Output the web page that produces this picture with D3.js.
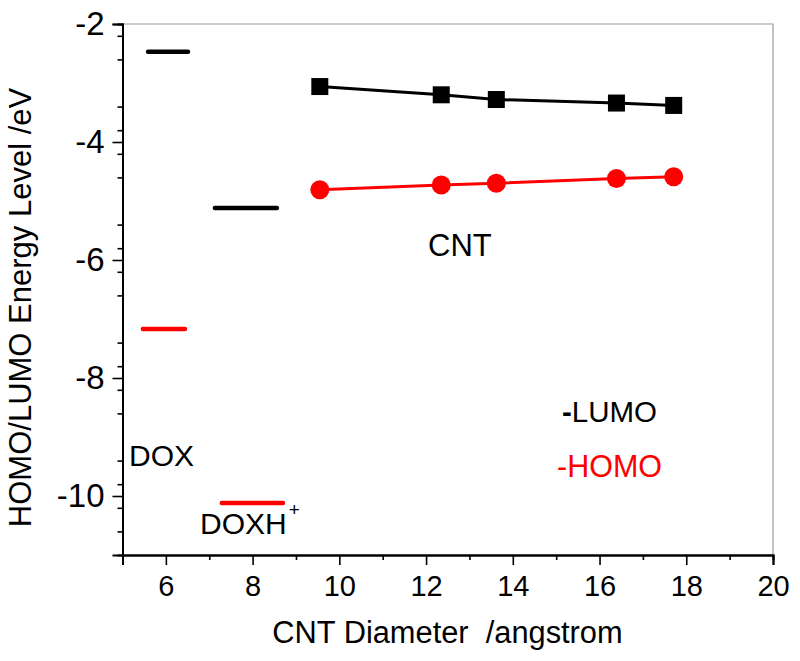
<!DOCTYPE html>
<html>
<head>
<meta charset="utf-8">
<script src="https://cdn.jsdelivr.net/npm/d3@7"></script>
<style>
  html, body { margin: 0; padding: 0; background: #fff; }
  svg { display: block; font-family: "Liberation Sans", Arial, sans-serif; }
</style>
</head>
<body>
<svg id="chart" width="800" height="661"></svg>
<script>
// ---- data ----
const cntDiameter = [9.55, 12.35, 13.62, 16.39, 17.71];
const cntLumo = [-3.06, -3.20, -3.28, -3.34, -3.38];
const cntHomo = [-4.81, -4.73, -4.70, -4.62, -4.59];

const moleculeNames = ["DOX", "DOX", "DOXH+", "DOXH+"];
const levelKind = ["LUMO", "HOMO", "LUMO", "HOMO"];
const levelX0 = [5.59, 5.47, 7.13, 7.29];
const levelX1 = [6.51, 6.44, 8.56, 8.70];
const levelE = [-2.47, -7.17, -5.12, -10.12];

const xTicks = [6, 8, 10, 12, 14, 16, 18, 20];
const yTicks = [-10, -8, -6, -4, -2];

// ---- layout ----
const W = 800, H = 661;
const margin = { left: 122.5, top: 24, right: 27, bottom: 106 };
const colors = { LUMO: "#000000", HOMO: "#ff0000" };

const svg = d3.select("#chart");
const x = d3.scaleLinear().domain([5, 20]).range([margin.left, W - margin.right]);
const y = d3.scaleLinear().domain([-11, -2]).range([H - margin.bottom, margin.top]);

const fmt = d => String(d).replace("\u2212", "-");

// frame (top/right, light gray)
svg.append("path")
  .attr("d", `M${x(5)},${y(-2)}H${x(20)}V${y(-11)}`)
  .attr("fill", "none").attr("stroke", "#9a9a9a").attr("stroke-width", 1.2);

// minor ticks
const xMinor = d3.range(5, 20, 2);
const yMinor = d3.range(-11, -2.01, 0.4).map(v => Math.round(v * 10) / 10)
  .filter(v => v > -11 && Math.abs(v - Math.round(v)) > 0.05);

const gx = svg.append("g").attr("transform", `translate(0,${y(-11)})`);
gx.call(d3.axisBottom(x).tickValues(xMinor).tickSize(5).tickFormat(""));
gx.append("g").call(d3.axisBottom(x).tickValues(xTicks).tickSize(10).tickPadding(10).tickFormat(fmt));
gx.selectAll("path.domain").attr("stroke", "#000").attr("stroke-width", 2);
gx.selectAll(".tick line").attr("stroke", "#000").attr("stroke-width", 1.6);
gx.selectAll(".tick text").attr("font-size", 29).attr("fill", "#000")
  .attr("font-family", "Liberation Sans, Arial, sans-serif");

const gy = svg.append("g").attr("transform", `translate(${x(5)},0)`);
gy.call(d3.axisLeft(y).tickValues(yMinor).tickSize(5).tickFormat(""));
gy.append("g").call(d3.axisLeft(y).tickValues(yTicks).tickSize(10).tickPadding(8).tickFormat(fmt));
gy.selectAll("path.domain").attr("stroke", "#000").attr("stroke-width", 2);
gy.selectAll(".tick line").attr("stroke", "#000").attr("stroke-width", 1.6);
gy.selectAll(".tick text").attr("font-size", 33).attr("fill", "#000")
  .attr("font-family", "Liberation Sans, Arial, sans-serif");

// axis titles
svg.append("text")
  .attr("x", 447.5).attr("y", 643)
  .attr("text-anchor", "middle").attr("font-size", 30.8)
  .style("white-space", "pre")
  .text("CNT Diameter  /angstrom");

svg.append("text")
  .attr("transform", `translate(31,${307.5}) rotate(-90)`)
  .attr("text-anchor", "middle").attr("font-size", 31)
  .text("HOMO/LUMO Energy Level /eV");

// molecule level segments
svg.append("g").selectAll("line").data(levelE).join("line")
  .attr("x1", (d, i) => x(levelX0[i])).attr("x2", (d, i) => x(levelX1[i]))
  .attr("y1", d => y(d)).attr("y2", d => y(d))
  .attr("stroke", (d, i) => colors[levelKind[i]])
  .attr("stroke-width", 4.5).attr("stroke-linecap", "round");

// CNT series
const line = d3.line().x(d => x(d[0])).y(d => y(d[1]));
const lumoPts = cntDiameter.map((d, i) => [d, cntLumo[i]]);
const homoPts = cntDiameter.map((d, i) => [d, cntHomo[i]]);

svg.append("path").datum(lumoPts).attr("d", line)
  .attr("fill", "none").attr("stroke", colors.LUMO).attr("stroke-width", 3);
svg.append("path").datum(homoPts).attr("d", line)
  .attr("fill", "none").attr("stroke", colors.HOMO).attr("stroke-width", 3);

const sq = 17;
svg.append("g").selectAll("rect").data(lumoPts).join("rect")
  .attr("x", d => x(d[0]) - sq / 2).attr("y", d => y(d[1]) - sq / 2)
  .attr("width", sq).attr("height", sq).attr("fill", colors.LUMO);
svg.append("g").selectAll("circle").data(homoPts).join("circle")
  .attr("cx", d => x(d[0])).attr("cy", d => y(d[1])).attr("r", 9.5)
  .attr("fill", colors.HOMO);

// annotations
svg.append("text").attr("x", 428).attr("y", 256).attr("font-size", 31).text("CNT");
svg.append("text").attr("x", 129).attr("y", 466).attr("font-size", 30).text("DOX");
const dh = svg.append("text").attr("x", 200).attr("y", 534).attr("font-size", 30);
dh.append("tspan").text("DOXH");
dh.append("tspan").attr("font-size", 19).attr("dy", -18).attr("dx", 2).text("+");

const lt = svg.append("text").attr("x", 562).attr("y", 422).attr("font-size", 29.5).attr("fill", "#000");
lt.append("tspan").attr("font-weight", "bold").text("-");
lt.append("tspan").text("LUMO");
const ht = svg.append("text").attr("x", 557).attr("y", 477).attr("font-size", 30.5).attr("fill", "#ff0000");
ht.append("tspan").text("-HOMO");
</script>
</body>
</html>
